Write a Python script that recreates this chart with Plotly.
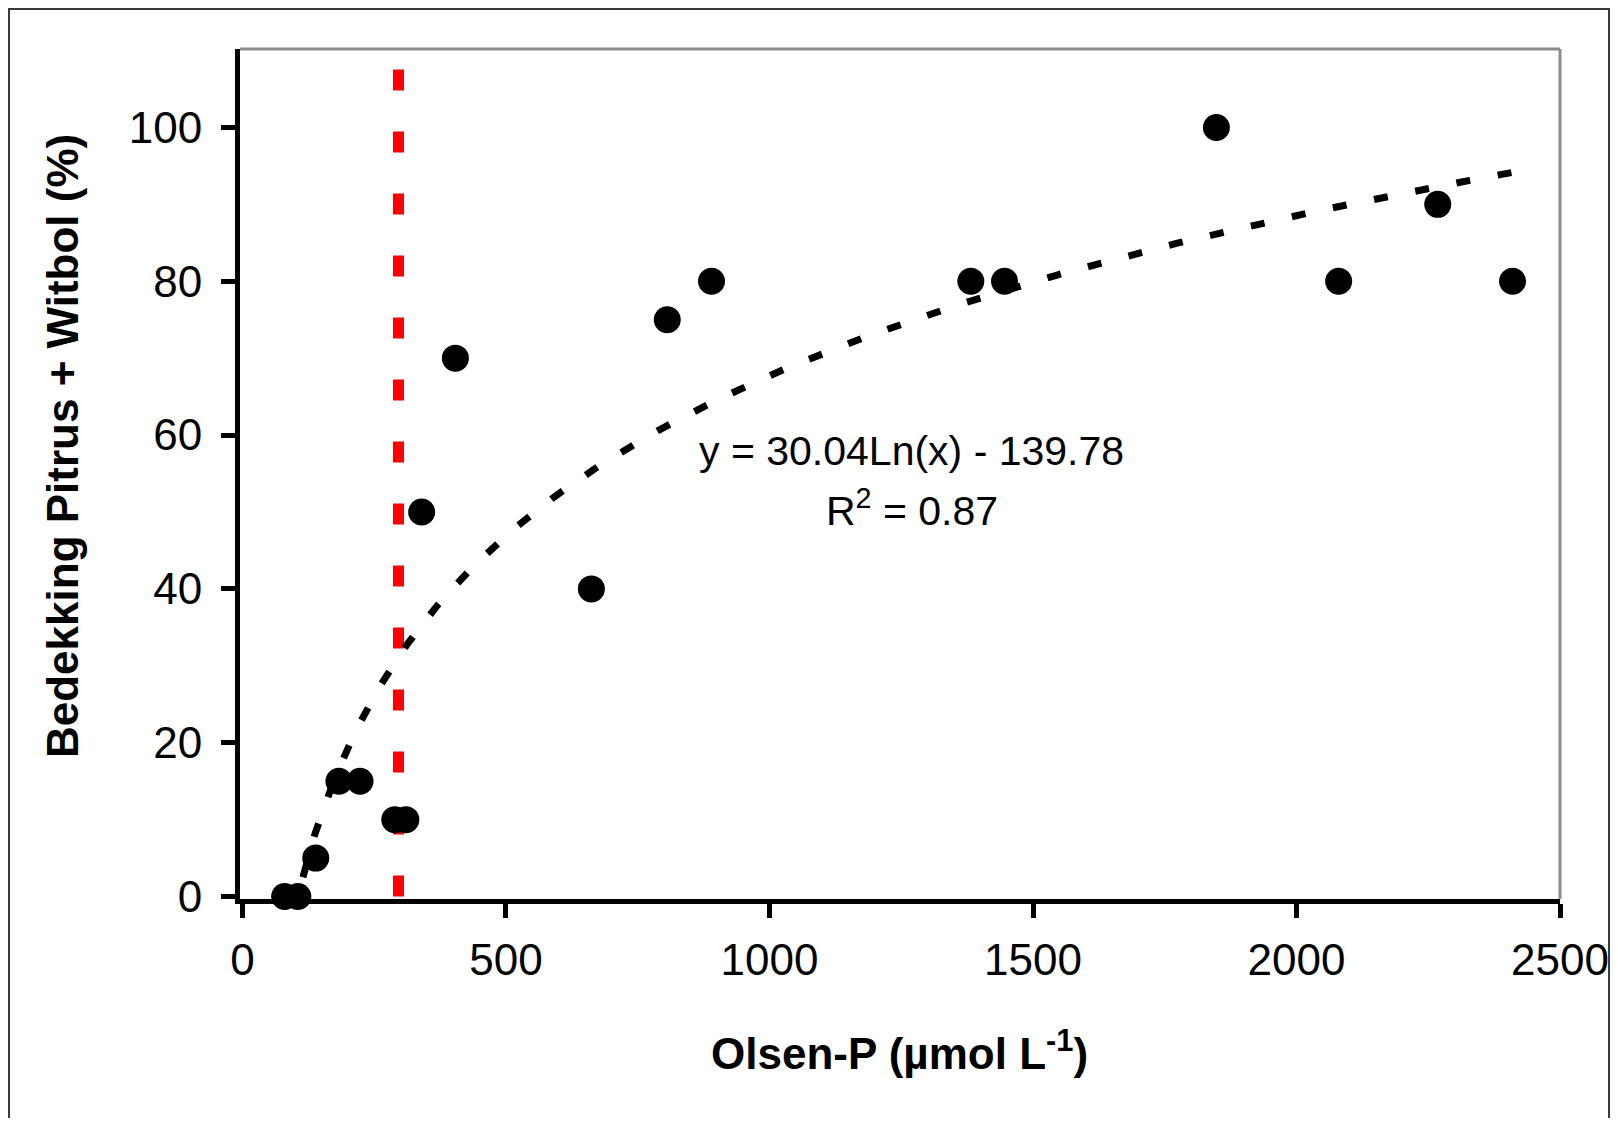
import numpy as np
import plotly.graph_objects as go

# ---- data ----
olsen_p = [80, 105, 139, 183, 223, 289, 310, 340, 404, 662, 806, 890,
           1382, 1446, 1848, 2080, 2268, 2410]
bedekking = [0, 0, 5, 15, 15, 10, 10, 50, 70, 40, 75, 80,
             80, 80, 100, 80, 90, 80]

# logarithmic trendline shown on the chart: y = a*ln(x) + b
trend_a = 30.04
trend_b = -139.78
r_squared = 0.87

threshold_x = 296           # red dashed vertical line
x_ticks = [0, 500, 1000, 1500, 2000, 2500]
y_ticks = [0, 20, 40, 60, 80, 100]
x_range = [-4.73, 2500]
y_range = [-0.32, 110.2]

FONT = "Liberation Sans, Arial, sans-serif"

trend_x = np.geomspace(min(olsen_p), max(olsen_p), 300)
trend_y = trend_a * np.log(trend_x) + trend_b

fig = go.Figure()

fig.add_trace(go.Scatter(
    x=[threshold_x, threshold_x], y=[0, 110],
    mode="lines", line=dict(color="#FF0000", width=11, dash="21px,41px"),
    hoverinfo="skip", showlegend=False))

fig.add_trace(go.Scatter(
    x=trend_x, y=trend_y, mode="lines",
    line=dict(color="black", width=7, dash="14px,28px"),
    hoverinfo="skip", showlegend=False))

fig.add_trace(go.Scatter(
    x=olsen_p, y=bedekking, mode="markers",
    marker=dict(color="black", size=27, line=dict(width=0)),
    cliponaxis=False, showlegend=False))

# figure geometry; the page body adds an 8px offset on screen,
# so the figure is sized to fit the window without scrollbars
OFF = 8
W, H = 1602, 1110
L, R, T, B = 232, 50, 41, 219
pw, ph = W - L - R, H - T - B


def sx(screen_x):
    return (screen_x - OFF - L) / pw


def sy(screen_y):
    return (H - B - (screen_y - OFF)) / ph


shapes = [
    # white panel with dark frame
    dict(type="rect", xref="paper", yref="paper", layer="below",
         x0=sx(OFF + 1), x1=sx(1609), y0=sy(1160), y1=sy(OFF + 1),
         fillcolor="white", line=dict(color="#3a3a3a", width=2)),
    # grey top and right borders of plot area
    dict(type="line", xref="paper", yref="paper", x0=0, x1=1, y0=1, y1=1,
         line=dict(color="#8c8c8c", width=3)),
    dict(type="line", xref="paper", yref="paper", x0=1, x1=1, y0=0, y1=1,
         line=dict(color="#8c8c8c", width=3)),
]

annotations = [
    dict(text=f"y = {trend_a:.2f}Ln(x) - {abs(trend_b):.2f}", xref="paper", yref="paper",
         x=sx(912), y=sy(451), xanchor="center", yanchor="middle",
         showarrow=False, font=dict(family=FONT, size=41, color="black")),
    dict(text=f"R<sup>2</sup> = {r_squared:.2f}", xref="paper", yref="paper",
         x=sx(912), y=sy(508), xanchor="center", yanchor="middle",
         showarrow=False, font=dict(family=FONT, size=41, color="black")),
    dict(text="<b>Olsen-P (µmol L<sup>-1</sup>)</b>", xref="paper", yref="paper",
         x=sx(899), y=sy(1050), xanchor="center", yanchor="middle",
         showarrow=False, font=dict(family=FONT, size=44, color="black")),
    dict(text="<b>Bedekking Pitrus + Witbol (%)</b>", xref="paper", yref="paper",
         x=sx(62), y=sy(446), xanchor="center", yanchor="middle", textangle=-90,
         showarrow=False, font=dict(family=FONT, size=44, color="black")),
]

axis_common = dict(
    showgrid=False, zeroline=False, showline=True, linecolor="black", linewidth=5,
    ticks="outside", ticklen=14, tickwidth=5, tickcolor="black", automargin=False,
    tickfont=dict(family=FONT, size=44, color="black"),
)

fig.update_layout(
    width=W, height=H, autosize=False,
    margin=dict(l=L, r=R, t=T, b=B, autoexpand=False),
    paper_bgcolor="#EBF2FC", plot_bgcolor="white",
    xaxis=dict(range=x_range, tickvals=x_ticks, ticktext=[str(v) for v in x_ticks],
               ticklabelstandoff=4, **axis_common),
    yaxis=dict(range=y_range, tickvals=y_ticks, ticktext=[str(v) for v in y_ticks],
               ticklabelstandoff=10, **axis_common),
    shapes=shapes, annotations=annotations, showlegend=False,
)

fig.write_html("out.html")
